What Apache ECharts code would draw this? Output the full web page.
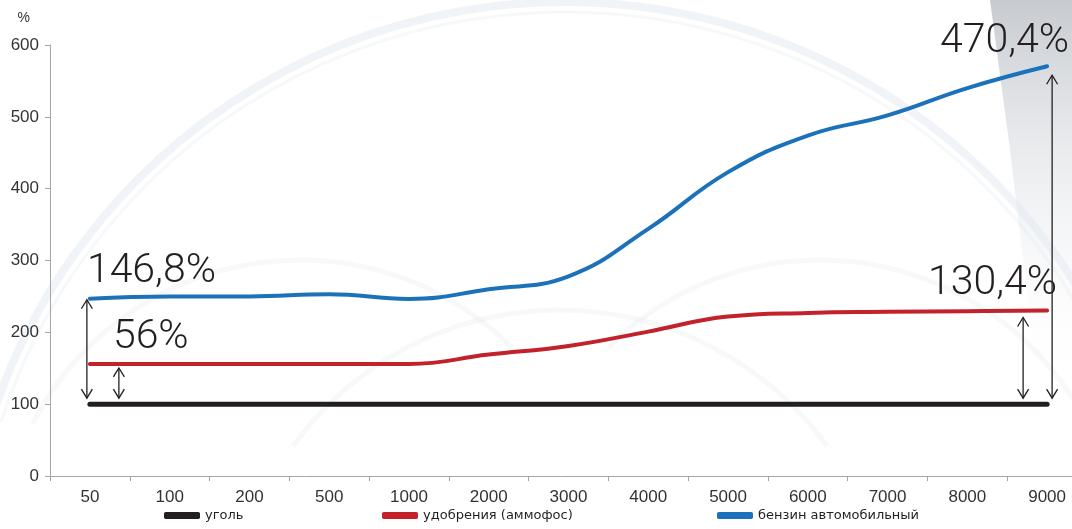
<!DOCTYPE html>
<html>
<head>
<meta charset="utf-8">
<script src="https://cdn.jsdelivr.net/npm/echarts@6/dist/echarts.min.js"></script>
<style>
  html, body { margin: 0; padding: 0; background: #ffffff; }
  #chart { width: 1072px; height: 529px; }
</style>
</head>
<body>
<div id="chart"></div>
<script>
// Output volume categories
const categories = ['50', '100', '200', '500', '1000', '2000', '3000', '4000', '5000', '6000', '7000', '8000', '9000'];

// Relative cost, % (coal = 100)
const coal       = [100, 100, 100, 100, 100, 100, 100, 100, 100, 100, 100, 100, 100];
const fertilizer = [156, 156, 156, 156, 156, 169, 181, 201, 222, 227, 228.5, 229.5, 230.4];
const petrol     = [246.8, 250, 250, 253, 246.5, 260, 278, 344, 423, 474, 502, 540, 570.4];

const yTicks = { min: 0, max: 600, step: 100 };

const seriesNames = ['уголь', 'удобрения (аммофос)', 'бензин автомобильный'];
const seriesColors = ['#231f20', '#c1222b', '#1b72ba'];

// Double-headed arrows from the coal baseline up to a line, with the gap written above
const arrowSpecs = [
  { values: petrol,     index: 0,  dx: -3,  gapTop: 1, labelDx: -3, labelDy: -27, align: 'left'  },
  { values: fertilizer, index: 0,  dx: 29,  gapTop: 4, labelDx: 23, labelDy: -26, align: 'left'  },
  { values: fertilizer, index: 12, dx: -24, gapTop: 7, labelDx: 10, labelDy: -27, align: 'right' },
  { values: petrol,     index: 12, dx: 5,   gapTop: 9, labelDx: 22, labelDy: -25, align: 'right' }
];

const arrowData = arrowSpecs.map(s => [s.index, coal[s.index], s.values[s.index]]);

function gapLabel(base, value) {
  const d = Math.round((value - base) * 10) / 10;
  return String(d).replace('.', ',') + '%';
}

function renderArrow(params, api) {
  const spec = arrowSpecs[params.dataIndex];
  const base = api.value(1);
  const val = api.value(2);
  const top = api.coord([api.value(0), val]);
  const bottom = api.coord([api.value(0), base]);
  const x = top[0] + spec.dx;
  const y1 = top[1] + spec.gapTop;
  const y2 = bottom[1] - 6;
  const hw = 5.5, hl = 9;
  const stroke = { stroke: '#231f20', lineWidth: 1.3, fill: null };
  return {
    type: 'group',
    children: [
      { type: 'line', shape: { x1: x, y1: y1, x2: x, y2: y2 }, style: stroke },
      { type: 'polyline', shape: { points: [[x - hw, y1 + hl], [x, y1], [x + hw, y1 + hl]] }, style: stroke },
      { type: 'polyline', shape: { points: [[x - hw, y2 - hl], [x, y2], [x + hw, y2 - hl]] }, style: stroke },
      {
        type: 'text',
        x: top[0] + spec.labelDx,
        y: top[1] + spec.labelDy,
        style: {
          text: gapLabel(base, val),
          fill: '#231f20',
          fontFamily: 'Roboto',
          fontWeight: 300,
          fontSize: 41,
          align: spec.align,
          verticalAlign: 'middle'
        }
      }
    ]
  };
}

// Faint decorative rings in the background
const ringColor = 'rgba(222, 231, 239, 0.45)';
const ringSoft = 'rgba(230, 236, 242, 0.35)';
const bgGraphics = [
  { type: 'arc', z: -10, silent: true, shape: { cx: 565, cy: 605, r: 603, startAngle: Math.PI * 1.08, endAngle: Math.PI * 1.92 },
    style: { stroke: ringColor, lineWidth: 8, fill: null } },
  { type: 'arc', z: -10, silent: true, shape: { cx: 565, cy: 605, r: 593, startAngle: Math.PI * 1.1, endAngle: Math.PI * 1.9 },
    style: { stroke: ringSoft, lineWidth: 3, fill: null } },
  { type: 'arc', z: -10, silent: true, shape: { cx: 300, cy: 560, r: 300, startAngle: Math.PI * 1.15, endAngle: Math.PI * 1.75 },
    style: { stroke: ringSoft, lineWidth: 5, fill: null } },
  { type: 'arc', z: -10, silent: true, shape: { cx: 820, cy: 560, r: 300, startAngle: Math.PI * 1.25, endAngle: Math.PI * 1.85 },
    style: { stroke: ringSoft, lineWidth: 5, fill: null } },
  { type: 'arc', z: -10, silent: true, shape: { cx: 560, cy: 640, r: 330, startAngle: Math.PI * 1.2, endAngle: Math.PI * 1.8 },
    style: { stroke: ringSoft, lineWidth: 5, fill: null } },
  { type: 'polygon', z: -11, silent: true,
    shape: { points: [[990, 0], [1072, 0], [1072, 400], [1040, 400], [1010, 150]] },
    style: { fill: { type: 'linear', x: 0, y: 0, x2: 0, y2: 1,
      colorStops: [{ offset: 0, color: 'rgba(180, 185, 192, 0.75)' }, { offset: 0.4, color: 'rgba(210, 214, 219, 0.45)' }, { offset: 1, color: 'rgba(255, 255, 255, 0)' }] } } }
];

const chart = echarts.init(document.getElementById('chart'), null, { renderer: 'canvas' });

const lineSeries = seriesNames.map((name, i) => ({
  name: name,
  type: 'line',
  data: [coal, fertilizer, petrol][i],
  smooth: 0.45,
  showSymbol: false,
  symbol: 'none',
  z: 3 + i,
  lineStyle: { color: seriesColors[i], width: i === 0 ? 5 : 4, cap: 'round', join: 'round' },
  itemStyle: { color: seriesColors[i] }
}));

const legendLefts = [164, 382, 717];

chart.setOption({
  animation: false,
  backgroundColor: '#ffffff',
  color: seriesColors,
  graphic: bgGraphics,
  grid: { left: 50, top: 45, width: 1037, height: 431, outerBoundsMode: 'none', containLabel: false },
  legend: seriesNames.map((name, i) => ({
    data: [name],
    left: legendLefts[i],
    top: 509,
    icon: 'roundRect',
    itemWidth: 36,
    itemHeight: 7,
    padding: 0,
    textStyle: { color: '#231f20', fontFamily: 'DejaVu Sans', fontSize: 13 }
  })),
  xAxis: {
    type: 'category',
    data: categories,
    boundaryGap: true,
    axisLine: { lineStyle: { color: '#a5a5a5', width: 1 } },
    axisTick: { show: true, length: 5, lineStyle: { color: '#a5a5a5' } },
    axisLabel: { interval: 0, margin: 13, color: '#333333', fontFamily: 'Liberation Sans', fontSize: 17 },
    splitLine: { show: false }
  },
  yAxis: {
    type: 'value',
    min: yTicks.min,
    max: yTicks.max,
    interval: yTicks.step,
    name: '%',
    nameLocation: 'end',
    nameGap: 20,
    nameTextStyle: { color: '#333333', fontFamily: 'Liberation Sans', fontSize: 14, align: 'right', padding: [0, 20, 0, 0] },
    axisLine: { show: true, lineStyle: { color: '#a5a5a5', width: 1 } },
    axisTick: { show: true, length: 5, lineStyle: { color: '#a5a5a5' } },
    axisLabel: { margin: 11, color: '#333333', fontFamily: 'Liberation Sans', fontSize: 17 },
    splitLine: { show: false }
  },
  series: lineSeries.concat([{
    name: 'gaps',
    type: 'custom',
    coordinateSystem: 'cartesian2d',
    data: arrowData,
    encode: { x: 0, y: [1, 2] },
    renderItem: renderArrow,
    clip: false,
    silent: true,
    z: 10
  }])
});
</script>
</body>
</html>
